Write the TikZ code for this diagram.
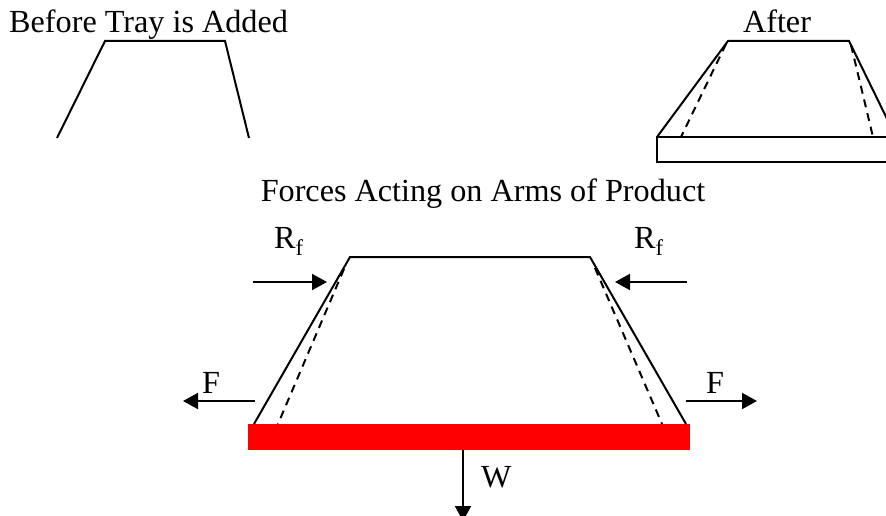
\documentclass[tikz,border=0pt]{standalone}
\usepackage{fontspec}
\setmainfont{Liberation Serif}
\usetikzlibrary{arrows.meta}
\tikzset{>={Triangle[length=15pt,width=16pt]}}
\tikzset{lbl/.style={inner sep=0pt, font=\fontsize{32.2}{38}\selectfont}}
\tikzset{arm/.style={line width=2pt}}
\tikzset{armdash/.style={line width=2pt, dash pattern=on 8pt off 6pt}}
\tikzset{force/.style={->, line width=2pt}}
\begin{document}
\begin{tikzpicture}[x=1pt, y=-1pt]
  \useasboundingbox (0, 0) rectangle (886, 516);
  \clip (0, 0) rectangle (886, 516);
  % before
  \node[lbl, anchor=base west] (before) at (9, 33) {Before Tray is Added};
  \draw[arm] (57, 138) -- (105, 41) -- (225, 41) -- (249, 138);
  % after
  \node[lbl, anchor=base] (after) at (777, 33) {After};
  \draw[arm] (657, 137) -- (728, 41) -- (849, 41) -- (890, 125);
  \draw[arm] (890, 137) -- (657, 137) -- (657, 162) -- (890, 162);
  \draw[armdash] (726, 44) -- (681, 137);
  \draw[armdash] (851, 45) -- (873, 137);
  % forces
  \node[lbl, anchor=base] (title) at (483, 201) {Forces Acting on Arms of Product};
  \fill[red] (248, 424) rectangle (690, 450);
  \draw[arm] (254, 424) -- (350, 257) -- (590, 257) -- (686, 424);
  \draw[armdash] (344, 269) -- (278, 424);
  \draw[armdash] (595, 268) -- (662, 424);
  \coordinate (rfleftstart) at (253, 282);
  \coordinate (rfleftend) at (327, 282);
  \coordinate (rfrightstart) at (687, 282);
  \coordinate (rfrightend) at (615, 282);
  \coordinate (fleftstart) at (255, 401);
  \coordinate (fleftend) at (183, 401);
  \coordinate (frightstart) at (686, 401);
  \coordinate (frightend) at (757, 401);
  \coordinate (wstart) at (463, 450);
  \coordinate (wend) at (463, 521);
  \draw[force] (rfleftstart) -- (rfleftend);
  \draw[force] (rfrightstart) -- (rfrightend);
  \draw[force] (fleftstart) -- (fleftend);
  \draw[force] (frightstart) -- (frightend);
  \draw[force] (wstart) -- (wend);
  \node[lbl, anchor=base west] (rfleft) at (274, 248) {R\textsubscript{f}};
  \node[lbl, anchor=base west] (rfright) at (634, 248) {R\textsubscript{f}};
  \node[lbl, anchor=base west] (fleft) at (202, 393) {F};
  \node[lbl, anchor=base west] (fright) at (706, 393) {F};
  \node[lbl, anchor=base west] (w) at (481, 487) {W};
\end{tikzpicture}
\end{document}
